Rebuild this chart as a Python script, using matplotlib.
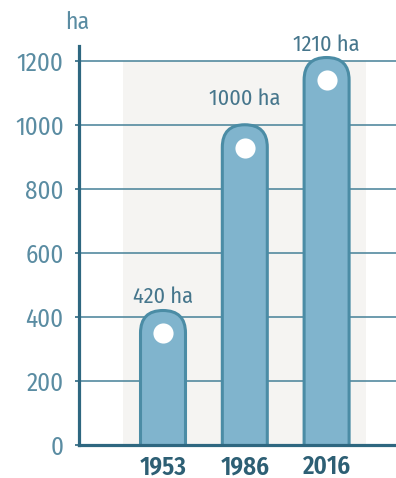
import matplotlib
matplotlib.use('Agg')
import matplotlib.pyplot as plt
from matplotlib import font_manager
from matplotlib.patches import FancyBboxPatch, Rectangle

# pick a condensed face if there is one, Roboto otherwise
installed = {f.name for f in font_manager.fontManager.ttflist}
prefs = ['Fira Sans Condensed', 'Roboto Condensed', 'PT Sans Narrow',
         'Asap Condensed', 'Liberation Sans Narrow', 'Roboto', 'DejaVu Sans']
fams = [f for f in prefs if f in installed] or ['DejaVu Sans']
plt.rcParams['font.family'] = fams

# data
years = ['1953', '1986', '2016']
area_ha = [420, 1000, 1210]
value_labels = ['420 ha', '1000 ha', '1210 ha']
y_ticks = [0, 200, 400, 600, 800, 1000, 1200]

# colours
bar_fill = '#80b4cd'
bar_edge = '#4b8ca5'
grid_col = '#458097'
axis_col = '#2e6780'
tick_col = '#5a8ca2'
year_col = '#2d5f74'
bg_col = '#f5f4f2'

W, H = 396, 478
fig = plt.figure(figsize=(W / 100, H / 100), dpi=100)

# axes in pixel space
ax_l, ax_r, ax_b, ax_t = 79, 396, 445, 46
ax = fig.add_axes([ax_l / W, (H - ax_b) / H, (ax_r - ax_l) / W, (ax_b - ax_t) / H])

px_per_x = 81.8
px_per_y = (445 - 60.7) / 1200
x0 = 163
ax.set_xlim(-(x0 - ax_l) / px_per_x, (ax_r - x0) / px_per_x)
ax.set_ylim(0, (ax_b - ax_t) / px_per_y)

# gray panel behind bars
ax.add_patch(Rectangle(((123 - x0) / px_per_x, 0), (366 - 123) / px_per_x, 1200,
                       facecolor=bg_col, edgecolor='none', zorder=0))

# grid lines
for t in y_ticks[1:]:
    ax.axhline(t, color=grid_col, lw=1.1, zorder=1)

# bars with a rounded top (bottom end is hidden below the axis)
bw = 45 / px_per_x
aspect = px_per_x / px_per_y
r = bw / 2
for i, v in enumerate(area_ha):
    p = FancyBboxPatch((i - bw / 2, -200), bw, v + 200,
                       boxstyle=f'round,pad=0,rounding_size={r}',
                       mutation_aspect=aspect,
                       facecolor=bar_fill, edgecolor=bar_edge, lw=2.2, zorder=3)
    ax.add_patch(p)
    ax.plot(i, v - 23 / px_per_y, 'o', ms=14.5, color='white', mec='none', zorder=4)

label_offsets = [14, 26, 13]
for i, (v, lab) in enumerate(zip(area_ha, value_labels)):
    ax.annotate(lab, (i, v), xytext=(0, label_offsets[i] * 0.72), textcoords='offset points',
                ha='center', va='center', fontsize=16,
                color='#46768c', zorder=5)

ax.set_yticks(y_ticks)
ax.set_yticklabels([str(t) for t in y_ticks])
ax.set_xticks(range(len(years)))
ax.set_xticklabels(years, fontweight='semibold')
ax.tick_params(axis='y', colors=axis_col, labelcolor=tick_col, labelsize=18,
               length=3, width=1.2, pad=8)
ax.tick_params(axis='x', length=0, labelcolor=year_col, labelsize=18, pad=7)

for s in ['top', 'right']:
    ax.spines[s].set_visible(False)
ax.spines['left'].set_color(axis_col)
ax.spines['left'].set_linewidth(2.3)
ax.spines['bottom'].set_color(axis_col)
ax.spines['bottom'].set_linewidth(2.3)
ax.spines['left'].set_zorder(6)
ax.spines['bottom'].set_zorder(6)
ax.set_facecolor('none')

fig.text(77 / W, 1 - 22 / H, 'ha', ha='center', va='center', fontsize=17,
         color=tick_col)

fig.savefig('out.png', dpi=100)
